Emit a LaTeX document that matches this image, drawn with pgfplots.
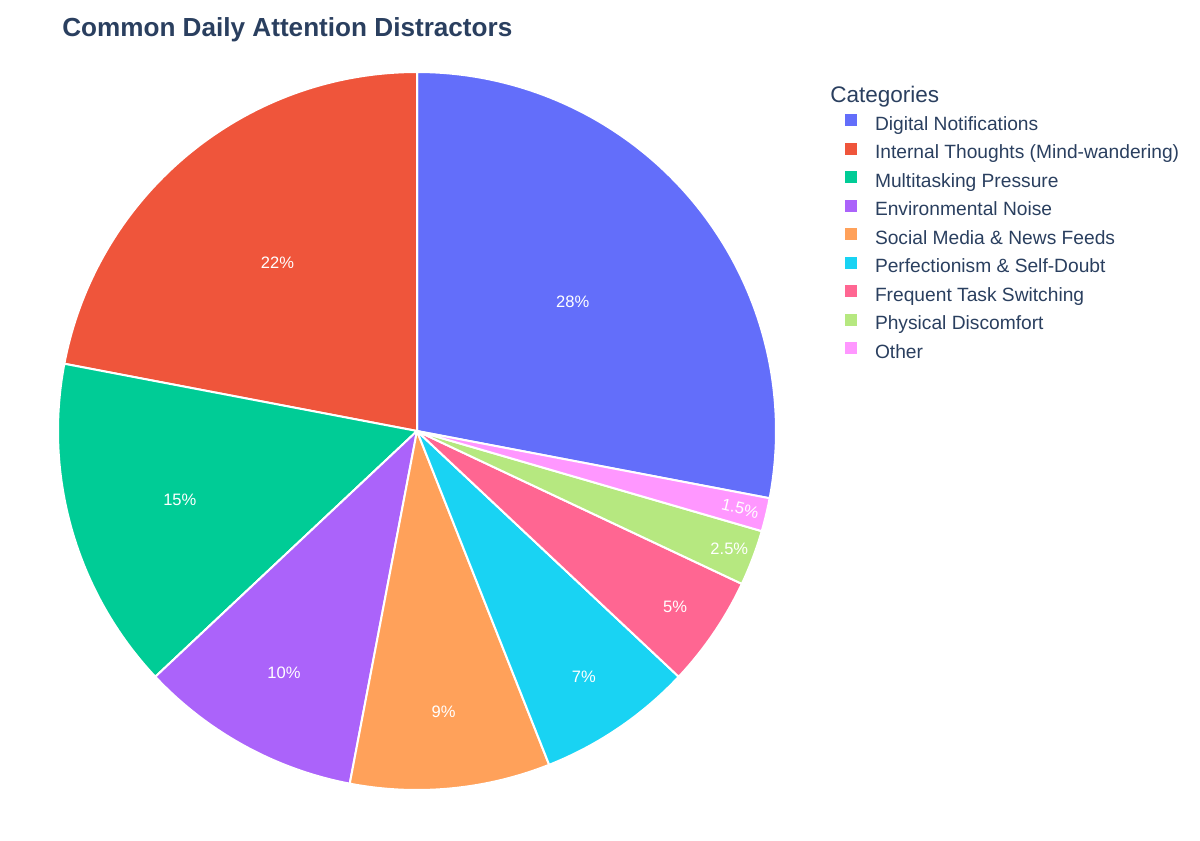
\documentclass[border=0pt]{standalone}
\usepackage{pgfplots}
\usepackage{pgfplotstable}
\pgfplotsset{compat=1.18}
\usepackage{fontspec}
\setmainfont{Liberation Sans}

\definecolor{txt}{HTML}{2A3F5F}
\definecolor{pA}{HTML}{636EFA}
\definecolor{pB}{HTML}{EF553B}
\definecolor{pC}{HTML}{00CC96}
\definecolor{pD}{HTML}{AB63FA}
\definecolor{pE}{HTML}{FFA15A}
\definecolor{pF}{HTML}{19D3F3}
\definecolor{pG}{HTML}{FF6692}
\definecolor{pH}{HTML}{B6E880}
\definecolor{pI}{HTML}{FF97FF}

% share in percent; lpos = label distance as a fraction of the radius
\pgfplotstableread[col sep=semicolon]{
name;share;col;lpos;rot
Digital Notifications;28;pA;0.563;0
Internal Thoughts (Mind-wandering);22;pB;0.61;0
Multitasking Pressure;15;pC;0.688;0
Environmental Noise;10;pD;0.769;0
Social Media \& News Feeds;9;pE;0.786;0
Perfectionism \& Self-Doubt;7;pF;0.827;0
Frequent Task Switching;5;pG;0.869;0
Physical Discomfort;2.5;pH;0.93;0
Other;1.5;pI;0.926;-13.5
}\distractors
\pgfplotstablecreatecol[create col/expr accum={\pgfmathaccuma + \thisrow{share}}{0}]{cum}{\distractors}

\begin{document}
\begin{tikzpicture}
\begin{axis}[
  at={(0,0)}, anchor=south west,
  x=0.75pt, y=0.75pt, scale only axis,
  xmin=0, xmax=1200, ymin=0, ymax=840, y dir=reverse,
  hide axis, clip=false,
  legend style={at={(axis cs:845,112)}, anchor=north west,
    draw=none, fill=none, inner sep=0pt, outer sep=0pt,
    font=\fontsize{14.4}{17}\selectfont, text=txt, row sep=0pt,
    column sep=13.5pt,
    nodes={inner sep=0pt, text height=13.5pt, text depth=7.875pt}},
  legend cell align=left,
  legend image code/.code={\fill[#1, draw=none] (0pt,0pt) rectangle (9pt,9pt);},
]
% slices run counter-clockwise; the first one ends at 12 o'clock
\pgfplotsinvokeforeach{0,...,8}{
  \pgfplotstablegetelem{#1}{share}\of\distractors \let\sh\pgfplotsretval
  \pgfplotstablegetelem{#1}{cum}\of\distractors \let\cu\pgfplotsretval
  \pgfplotstablegetelem{#1}{col}\of\distractors \let\co\pgfplotsretval
  \pgfplotstablegetelem{#1}{lpos}\of\distractors \let\lp\pgfplotsretval
  \pgfplotstablegetelem{#1}{rot}\of\distractors \let\ro\pgfplotsretval
  \pgfplotstablegetelem{#1}{name}\of\distractors \let\nm\pgfplotsretval
  \pgfmathsetmacro{\aS}{-10.8+3.6*(\cu-\sh)}
  \pgfmathsetmacro{\aE}{-10.8+3.6*\cu}
  \pgfmathsetmacro{\aM}{(\aS+\aE)/2}
  \pgfmathsetmacro{\lr}{\lp*269.25}
  \edef\slice{%
    \noexpand\fill[\co, draw=white, line width=1.5pt, line join=round]
      (axis cs:417,431) -- +(\aS:269.25pt)
      arc[start angle=\aS, end angle=\aE, radius=269.25pt] -- cycle;
    \noexpand\path (axis cs:417,431) ++(\aM:\lr pt)
      node[text=white, rotate=\ro, inner sep=0pt,
           font=\noexpand\fontsize{12.4}{14}\noexpand\selectfont] {\sh\noexpand\%};
    \noexpand\addlegendimage{fill=\co}
    \noexpand\addlegendentry{\nm}
  }%
  \slice
}
\node[anchor=base west, inner sep=0pt, text=txt,
      font=\bfseries\fontsize{19.6}{23}\selectfont]
  at (axis cs:62,36) {Common Daily Attention Distractors};
\node[anchor=base west, inner sep=0pt, text=txt,
      font=\fontsize{16.9}{20}\selectfont]
  at (axis cs:830,102) {Categories};
\end{axis}
\pgfresetboundingbox
\path (0,0) rectangle (900pt,630pt);
\end{tikzpicture}
\end{document}
